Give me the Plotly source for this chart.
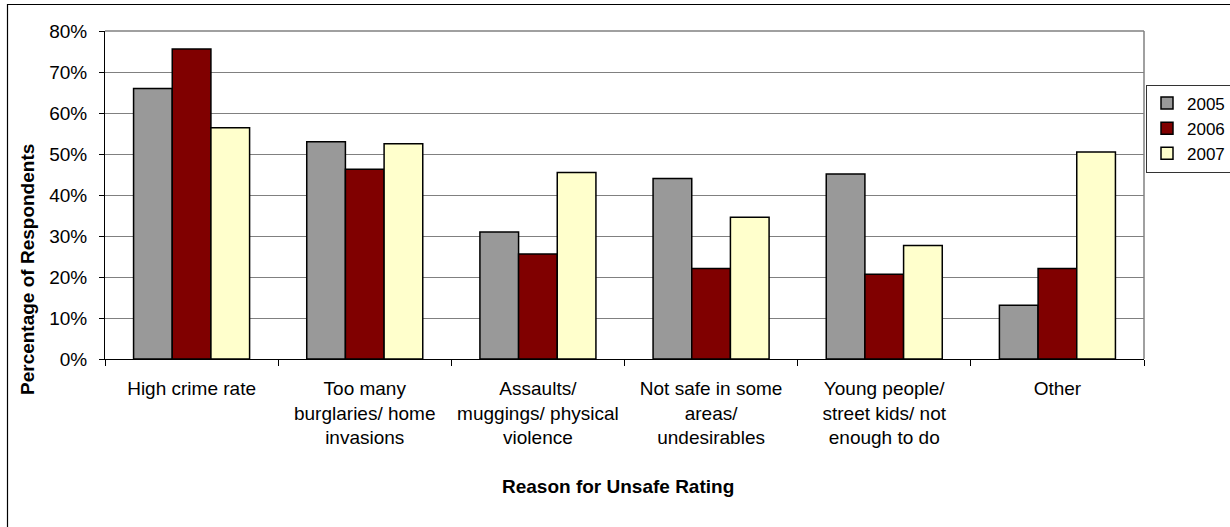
import plotly.graph_objects as go

categories = [
    "High crime rate",
    "Too many<br>burglaries/ home<br>invasions",
    "Assaults/<br>muggings/ physical<br>violence",
    "Not safe in some<br>areas/<br>undesirables",
    "Young people/<br>street kids/ not<br>enough to do",
    "Other",
]
years = ["2005", "2006", "2007"]
v2005 = [66.0, 53.0, 31.0, 44.0, 45.1, 13.1]
v2006 = [75.6, 46.3, 25.6, 22.1, 20.7, 22.1]
v2007 = [56.4, 52.5, 45.5, 34.6, 27.7, 50.5]
colors = ["#999999", "#800000", "#FFFFCC"]
ytickvals = [0, 10, 20, 30, 40, 50, 60, 70, 80]
yticktext = ["0%", "10%", "20%", "30%", "40%", "50%", "60%", "70%", "80%"]

W, H = 1230, 527
L, R, T, B = 105, 86, 31, 168
pw, ph = W - L - R, H - T - B

def px_x(x):
    return (x - L) / pw

def px_y(y):
    return (H - B - y) / ph

FONT = "Liberation Sans, Arial, sans-serif"

fig = go.Figure()
for name, vals, col in zip(years, [v2005, v2006, v2007], colors):
    fig.add_trace(go.Bar(
        name=name, x=categories, y=vals,
        marker=dict(color=col, line=dict(color="black", width=1.5)),
    ))

fig.update_layout(
    template="none",
    width=W, height=H,
    margin=dict(l=L, r=R, t=T, b=B, autoexpand=False),
    paper_bgcolor="white", plot_bgcolor="white",
    barmode="group", bargap=0.33, bargroupgap=0,
    font=dict(family=FONT, size=19, color="black"),
    legend=dict(
        x=px_x(1146), xanchor="left", y=px_y(128.5), yanchor="middle",
        bordercolor="#333333", borderwidth=1, bgcolor="white",
        font=dict(family=FONT, size=17, color="black"),
        tracegroupgap=0, itemwidth=30,
    ),
    showlegend=True,
)
fig.update_xaxes(
    automargin=False,
    showline=True, linecolor="black", linewidth=1,
    ticks="outside", ticklen=6, tickcolor="black", tickson="boundaries",
    showgrid=False, tickfont=dict(family=FONT, size=19, color="black"),
    ticklabelstandoff=12,
)
fig.update_yaxes(
    automargin=False,
    range=[0, 80], tickmode="array", tickvals=ytickvals, ticktext=yticktext,
    showline=True, linecolor="black", linewidth=1,
    ticks="outside", ticklen=5, tickcolor="black",
    showgrid=True, gridcolor="#808080", gridwidth=1,
    zeroline=False, tickfont=dict(family=FONT, size=19, color="black"),
    ticklabelstandoff=8,
)

fig.add_shape(type="line", xref="paper", yref="paper", x0=1, x1=1, y0=0, y1=1,
              line=dict(color="#808080", width=1.5))
fig.add_shape(type="line", xref="paper", yref="paper", x0=0, x1=1, y0=1, y1=1,
              line=dict(color="#808080", width=1.5))
fig.add_shape(type="rect", xref="paper", yref="paper",
              x0=px_x(7.5), x1=px_x(1240), y0=px_y(540), y1=px_y(4.5),
              line=dict(color="black", width=1.2), layer="below")

fig.add_annotation(
    text="<b>Percentage of Respondents</b>", textangle=-90,
    xref="paper", yref="paper", x=px_x(27), y=px_y(270),
    xanchor="center", yanchor="middle",
    showarrow=False, font=dict(family=FONT, size=19, color="black"),
)
fig.add_annotation(
    text="<b>Reason for Unsafe Rating</b>",
    xref="paper", yref="paper", x=px_x(618), y=px_y(487),
    xanchor="center", yanchor="middle",
    showarrow=False, font=dict(family=FONT, size=19, color="black"),
)

fig.write_html(
    "out.html",
    config={"displayModeBar": False},
    post_script="document.body.style.margin='0px';document.body.style.overflow='hidden';",
)
